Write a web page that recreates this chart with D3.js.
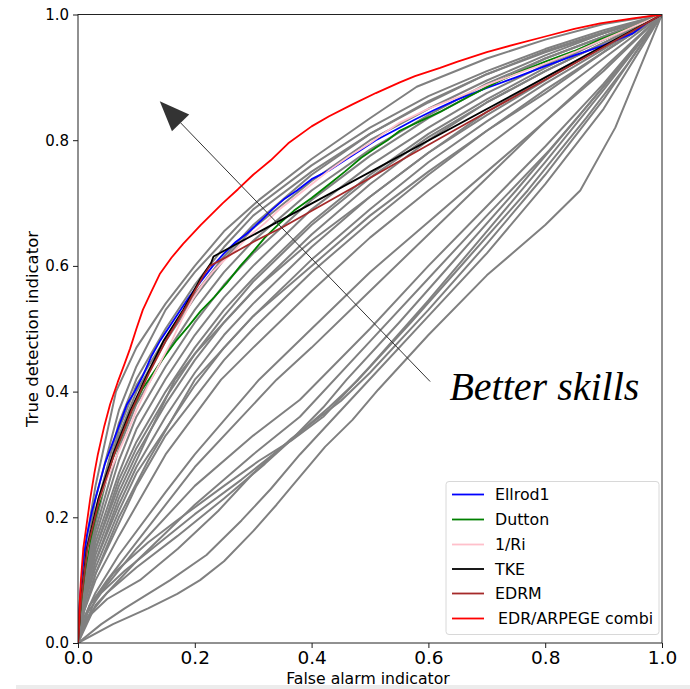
<!DOCTYPE html>
<html>
<head>
<meta charset="utf-8">
<script src="https://cdn.jsdelivr.net/npm/d3@7"></script>
<style>
  html, body { margin: 0; padding: 0; background: #fff; }
  svg { display: block; }
</style>
</head>
<body>
<svg id="chart" width="690" height="689"></svg>
<script>
// ---------------- data ----------------
const xTicks = [0.0, 0.2, 0.4, 0.6, 0.8, 1.0];
const yTicks = [0.0, 0.2, 0.4, 0.6, 0.8, 1.0];
const xLabel = "False alarm indicator";
const yLabel = "True detection indicator";
const annotation = "Better skills";

const seriesNames = ["Ellrod1", "Dutton", "1/Ri", "TKE", "EDRM", "EDR/ARPEGE combi"];
const seriesColors = ["#0000ff", "#008000", "#ffc0cb", "#000000", "#a52a2a", "#ff0000"];

const ellrod1 = [[0,0],[0.002,0.05],[0.004,0.08],[0.009,0.13],[0.015,0.17],[0.024,0.21],[0.034,0.244],[0.046,0.285],[0.06,0.32],[0.072,0.35],[0.084,0.38],[0.097,0.40],[0.111,0.425],[0.125,0.455],[0.14,0.48],[0.165,0.515],[0.19,0.55],[0.21,0.575],[0.231,0.60],[0.25,0.62],[0.27,0.638],[0.29,0.652],[0.312,0.671],[0.333,0.69],[0.354,0.707],[0.375,0.72],[0.40,0.738],[0.43,0.752],[0.457,0.768],[0.485,0.785],[0.51,0.80],[0.545,0.817],[0.577,0.833],[0.61,0.848],[0.65,0.865],[0.7,0.883],[0.75,0.90],[0.8,0.918],[0.85,0.935],[0.894,0.949],[0.95,0.97],[0.979,0.99],[1,1]];
const dutton = [[0,0],[0.003,0.04],[0.006,0.07],[0.012,0.115],[0.02,0.16],[0.03,0.2],[0.043,0.244],[0.058,0.29],[0.075,0.33],[0.092,0.37],[0.111,0.405],[0.14,0.445],[0.169,0.482],[0.19,0.505],[0.21,0.528],[0.233,0.55],[0.255,0.573],[0.278,0.6],[0.3,0.623],[0.32,0.645],[0.342,0.665],[0.37,0.688],[0.4,0.708],[0.43,0.73],[0.457,0.75],[0.485,0.772],[0.51,0.788],[0.53,0.8],[0.551,0.815],[0.585,0.83],[0.62,0.845],[0.67,0.87],[0.723,0.895],[0.76,0.91],[0.8,0.925],[0.85,0.942],[0.894,0.96],[0.95,0.98],[1,1]];
const invRi = [[0,0],[0.002,0.035],[0.005,0.07],[0.012,0.125],[0.02,0.17],[0.032,0.215],[0.045,0.25],[0.065,0.295],[0.084,0.334],[0.1,0.37],[0.12,0.41],[0.14,0.445],[0.16,0.48],[0.178,0.515],[0.197,0.548],[0.213,0.57],[0.23,0.59],[0.248,0.607],[0.265,0.621],[0.29,0.645],[0.32,0.668],[0.345,0.69],[0.37,0.708],[0.4,0.73],[0.43,0.752],[0.465,0.775],[0.5,0.795],[0.525,0.812],[0.551,0.828],[0.6,0.85],[0.65,0.868],[0.7,0.888],[0.75,0.905],[0.8,0.922],[0.85,0.94],[0.9,0.96],[0.93,0.972],[1,1]];
const tke = [[0,0],[0.005,0.07],[0.015,0.15],[0.035,0.23],[0.06,0.3],[0.09,0.37],[0.12,0.43],[0.146,0.48],[0.18,0.53],[0.21,0.58],[0.228,0.605],[0.232,0.615],[1,1]];
const edrm = [[0,0],[0.005,0.065],[0.016,0.15],[0.037,0.23],[0.062,0.3],[0.092,0.37],[0.122,0.43],[0.15,0.48],[0.185,0.535],[0.215,0.585],[0.226,0.6],[0.25,0.612],[0.3,0.638],[0.351,0.662],[0.5,0.74],[0.551,0.767],[0.7,0.845],[0.85,0.922],[1,1]];
const edrCombi = [[0,0],[0.002,0.05],[0.005,0.1],[0.009,0.15],[0.015,0.19],[0.021,0.23],[0.028,0.27],[0.034,0.30],[0.045,0.345],[0.055,0.38],[0.068,0.415],[0.08,0.445],[0.089,0.468],[0.1,0.5],[0.111,0.53],[0.125,0.558],[0.14,0.587],[0.16,0.613],[0.18,0.635],[0.21,0.665],[0.248,0.70],[0.274,0.722],[0.30,0.745],[0.33,0.768],[0.36,0.795],[0.40,0.822],[0.43,0.838],[0.47,0.857],[0.51,0.875],[0.551,0.892],[0.577,0.902],[0.62,0.915],[0.65,0.925],[0.7,0.94],[0.75,0.953],[0.8,0.965],[0.85,0.977],[0.894,0.986],[0.95,0.994],[1,1]];

// other indices (grey)
const grey01 = [[0,0],[0.01,0.14],[0.03,0.25],[0.065,0.4],[0.1,0.47],[0.15,0.54],[0.2,0.6],[0.25,0.655],[0.31,0.705],[0.4,0.77],[0.5,0.835],[0.58,0.885],[0.7,0.93],[0.8,0.96],[0.9,0.985],[1,1]];
const grey02 = [[0,0],[0.01,0.12],[0.03,0.23],[0.07,0.37],[0.1,0.44],[0.15,0.53],[0.2,0.59],[0.25,0.64],[0.3,0.69],[0.4,0.76],[0.5,0.82],[0.6,0.87],[0.7,0.91],[0.8,0.945],[0.9,0.975],[1,1]];
const grey03 = [[0,0],[0.01,0.11],[0.03,0.21],[0.07,0.35],[0.1,0.42],[0.15,0.5],[0.2,0.57],[0.25,0.63],[0.3,0.68],[0.4,0.75],[0.5,0.81],[0.6,0.86],[0.7,0.905],[0.8,0.94],[0.9,0.97],[1,1]];
const grey04 = [[0,0],[0.01,0.1],[0.03,0.2],[0.07,0.33],[0.1,0.4],[0.15,0.48],[0.2,0.55],[0.25,0.61],[0.3,0.66],[0.4,0.735],[0.5,0.8],[0.6,0.85],[0.7,0.895],[0.8,0.935],[0.9,0.97],[1,1]];
const grey05 = [[0,0],[0.01,0.09],[0.03,0.18],[0.07,0.31],[0.1,0.38],[0.15,0.46],[0.2,0.53],[0.25,0.59],[0.3,0.64],[0.4,0.72],[0.5,0.785],[0.6,0.84],[0.7,0.89],[0.8,0.93],[0.9,0.965],[1,1]];
const grey06 = [[0,0],[0.01,0.08],[0.03,0.17],[0.07,0.29],[0.1,0.36],[0.15,0.44],[0.2,0.51],[0.25,0.57],[0.3,0.62],[0.4,0.705],[0.5,0.775],[0.6,0.835],[0.7,0.885],[0.8,0.93],[0.9,0.965],[1,1]];
const grey07 = [[0,0],[0.01,0.08],[0.03,0.16],[0.07,0.27],[0.1,0.34],[0.15,0.42],[0.2,0.49],[0.25,0.55],[0.3,0.6],[0.4,0.69],[0.5,0.76],[0.6,0.82],[0.7,0.875],[0.8,0.92],[0.9,0.96],[1,1]];
const grey08 = [[0,0],[0.01,0.07],[0.03,0.15],[0.07,0.26],[0.1,0.32],[0.15,0.4],[0.2,0.47],[0.25,0.53],[0.3,0.58],[0.4,0.67],[0.5,0.745],[0.6,0.81],[0.7,0.865],[0.8,0.915],[0.9,0.96],[1,1]];
const grey09 = [[0,0],[0.01,0.07],[0.03,0.14],[0.07,0.24],[0.1,0.3],[0.15,0.38],[0.2,0.45],[0.25,0.51],[0.3,0.56],[0.4,0.65],[0.5,0.73],[0.6,0.8],[0.7,0.86],[0.8,0.91],[0.9,0.955],[1,1]];
const grey10 = [[0,0],[0.01,0.06],[0.03,0.13],[0.07,0.22],[0.1,0.28],[0.15,0.36],[0.2,0.43],[0.25,0.49],[0.3,0.54],[0.4,0.63],[0.5,0.71],[0.6,0.78],[0.7,0.845],[0.8,0.9],[0.9,0.95],[1,1]];
const grey11 = [[0,0],[0.01,0.06],[0.03,0.12],[0.07,0.21],[0.1,0.27],[0.15,0.34],[0.2,0.41],[0.25,0.47],[0.3,0.52],[0.4,0.61],[0.5,0.69],[0.6,0.765],[0.7,0.83],[0.8,0.89],[0.9,0.945],[1,1]];
const grey12 = [[0,0],[0.01,0.06],[0.03,0.13],[0.07,0.23],[0.12,0.33],[0.166,0.419],[0.2,0.46],[0.3,0.56],[0.4,0.64],[0.5,0.71],[0.6,0.78],[0.7,0.84],[0.8,0.895],[0.9,0.95],[1,1]];
const grey13 = [[0,0],[0.01,0.05],[0.03,0.11],[0.07,0.2],[0.12,0.29],[0.2,0.419],[0.3,0.52],[0.4,0.6],[0.5,0.68],[0.6,0.75],[0.7,0.815],[0.8,0.875],[0.9,0.94],[1,1]];
const grey14 = [[0,0],[0.01,0.05],[0.03,0.1],[0.07,0.17],[0.15,0.3],[0.245,0.419],[0.3,0.47],[0.4,0.56],[0.5,0.645],[0.6,0.72],[0.7,0.79],[0.8,0.86],[0.9,0.93],[1,1]];
const grey15 = [[0,0],[0.01,0.04],[0.03,0.08],[0.07,0.14],[0.15,0.24],[0.2,0.3],[0.31,0.419],[0.4,0.5],[0.5,0.59],[0.6,0.67],[0.7,0.75],[0.8,0.83],[0.9,0.91],[1,1]];
const grey16 = [[0,0],[0.02,0.06],[0.05,0.1],[0.1,0.16],[0.2,0.28],[0.34,0.419],[0.4,0.47],[0.5,0.56],[0.6,0.65],[0.7,0.74],[0.8,0.83],[0.9,0.915],[1,1]];
const grey17 = [[0,0],[0.03,0.06],[0.1,0.13],[0.2,0.22],[0.3,0.3],[0.38,0.36],[0.5,0.48],[0.6,0.58],[0.7,0.68],[0.808,0.785],[0.9,0.885],[1,1]];
const grey18 = [[0,0],[0.01,0.04],[0.04,0.08],[0.08,0.115],[0.14,0.16],[0.2,0.205],[0.28,0.26],[0.365,0.323],[0.42,0.375],[0.46,0.419],[0.55,0.51],[0.65,0.615],[0.75,0.72],[0.85,0.83],[0.93,0.92],[1,1]];
const grey19 = [[0,0],[0.015,0.04],[0.05,0.08],[0.1,0.12],[0.17,0.17],[0.25,0.23],[0.32,0.285],[0.365,0.323],[0.43,0.375],[0.48,0.419],[0.57,0.51],[0.67,0.615],[0.77,0.72],[0.87,0.835],[0.94,0.92],[1,1]];
const grey20 = [[0,0],[0.01,0.035],[0.05,0.07],[0.106,0.1],[0.171,0.15],[0.24,0.21],[0.3,0.27],[0.365,0.325],[0.45,0.385],[0.5,0.43],[0.6,0.53],[0.7,0.635],[0.8,0.745],[0.9,0.865],[1,1]];
const grey21 = [[0,0],[0.02,0.06],[0.06,0.11],[0.12,0.16],[0.171,0.196],[0.25,0.25],[0.31,0.29],[0.365,0.322],[0.42,0.36],[0.5,0.44],[0.6,0.545],[0.7,0.655],[0.8,0.765],[0.9,0.88],[1,1]];
const grey22 = [[0,0],[0.06,0.03],[0.12,0.055],[0.17,0.078],[0.209,0.1],[0.25,0.13],[0.3,0.178],[0.34,0.22],[0.365,0.248],[0.423,0.312],[0.47,0.355],[0.514,0.403],[0.6,0.49],[0.7,0.585],[0.8,0.665],[0.86,0.72],[0.92,0.82],[1,1]];
const grey23 = [[0,0],[0.04,0.03],[0.08,0.055],[0.158,0.1],[0.22,0.14],[0.28,0.195],[0.33,0.245],[0.38,0.3],[0.43,0.35],[0.5,0.42],[0.6,0.52],[0.7,0.62],[0.8,0.73],[0.9,0.85],[1,1]];
const grey24 = [[0,0],[0.01,0.09],[0.03,0.19],[0.07,0.34],[0.1,0.41],[0.15,0.485],[0.2,0.555],[0.25,0.615],[0.3,0.665],[0.4,0.745],[0.5,0.81],[0.6,0.862],[0.7,0.905],[0.8,0.942],[0.9,0.972],[1,1]];
const grey25 = [[0,0],[0.01,0.07],[0.03,0.15],[0.07,0.25],[0.1,0.31],[0.15,0.39],[0.2,0.46],[0.25,0.52],[0.3,0.575],[0.4,0.665],[0.5,0.74],[0.6,0.805],[0.7,0.86],[0.8,0.91],[0.9,0.955],[1,1]];
const grey26 = [[0,0],[0.01,0.05],[0.03,0.11],[0.07,0.19],[0.1,0.25],[0.15,0.33],[0.2,0.39],[0.25,0.45],[0.3,0.5],[0.4,0.59],[0.5,0.67],[0.6,0.745],[0.7,0.815],[0.8,0.88],[0.9,0.94],[1,1]];
const grey27 = [[0,0],[0.03,0.07],[0.1,0.15],[0.2,0.25],[0.3,0.33],[0.38,0.387],[0.5,0.5],[0.6,0.6],[0.7,0.695],[0.8,0.79],[0.9,0.89],[1,1]];

const greyCurves = [grey01,grey02,grey03,grey04,grey05,grey06,grey07,grey08,grey09,grey10,grey11,
                    grey12,grey13,grey14,grey15,grey16,grey17,grey18,grey19,grey20,grey21,grey22,
                    grey23,grey24,grey25,grey26,grey27];
const namedCurves = [ellrod1, dutton, invRi, tke, edrm, edrCombi];

// arrow annotation (data coordinates): tail near text, head at upper-left
const arrowTail = [0.603, 0.416];
const arrowHead = [0.140, 0.862];
const textAnchor = [0.636, 0.387];

// ---------------- drawing ----------------
const svg = d3.select("#chart");
const W = 690, H = 689;
const mLeft = 78, mRight = 662, mTop = 14.5, mBottom = 643;

const x = d3.scaleLinear().domain([0, 1]).range([mLeft, mRight]);
const y = d3.scaleLinear().domain([0, 1]).range([mBottom, mTop]);

svg.append("rect").attr("x", 0).attr("y", 0).attr("width", W).attr("height", H).attr("fill", "#fff");
svg.append("rect").attr("x", 16).attr("y", 685).attr("width", W - 16).attr("height", 4).attr("fill", "#ececec");

svg.append("defs").append("clipPath").attr("id", "plotclip")
  .append("rect").attr("x", mLeft).attr("y", mTop).attr("width", mRight - mLeft).attr("height", mBottom - mTop);

const line = d3.line().x(d => x(d[0])).y(d => y(d[1]));

const plot = svg.append("g").attr("clip-path", "url(#plotclip)");

plot.selectAll("path.grey").data(greyCurves).join("path")
  .attr("class", "grey")
  .attr("d", line)
  .attr("fill", "none")
  .attr("stroke", "#808080")
  .attr("stroke-width", 2)
  .attr("stroke-linejoin", "round");

plot.selectAll("path.named").data(namedCurves).join("path")
  .attr("class", "named")
  .attr("d", line)
  .attr("fill", "none")
  .attr("stroke", (d, i) => seriesColors[i])
  .attr("stroke-width", 1.8)
  .attr("stroke-linejoin", "round");

// axes
const fontFam = "'DejaVu Sans', sans-serif";
const xAxis = svg.append("g").attr("transform", `translate(0,${mBottom})`)
  .call(d3.axisBottom(x).tickValues(xTicks).tickFormat(d3.format(".1f")).tickSize(5).tickPadding(3));
xAxis.selectAll("text").attr("font-family", fontFam).attr("font-size", 18.5).attr("fill", "#000");

const yAxis = svg.append("g").attr("transform", `translate(${mLeft},0)`)
  .call(d3.axisLeft(y).tickValues(yTicks).tickFormat(d3.format(".1f")).tickSize(5).tickPadding(4));
yAxis.selectAll("text").attr("font-family", fontFam).attr("font-size", 15).attr("fill", "#000");

[xAxis, yAxis].forEach(a => {
  a.select(".domain").remove();
  a.selectAll("line").attr("stroke", "#000").attr("stroke-width", 0.9);
});

// frame
svg.append("rect").attr("x", mLeft).attr("y", mTop).attr("width", mRight - mLeft).attr("height", mBottom - mTop)
  .attr("fill", "none").attr("stroke", "#222").attr("stroke-width", 1);

// axis labels
svg.append("text").attr("x", (mLeft + mRight) / 2 - 2).attr("y", 684)
  .attr("text-anchor", "middle").attr("font-family", fontFam).attr("font-size", 15.7).text(xLabel);
svg.append("text").attr("transform", `translate(38,329) rotate(-90)`)
  .attr("text-anchor", "middle").attr("font-family", fontFam).attr("font-size", 16.5).text(yLabel);

// arrow
const hx = x(arrowHead[0]), hy = y(arrowHead[1]);
const tx = x(arrowTail[0]), ty = y(arrowTail[1]);
const ang = Math.atan2(hy - ty, hx - tx);
const headLen = 30, headHalf = 12;
const bx = hx - headLen * Math.cos(ang), by = hy - headLen * Math.sin(ang);
svg.append("line").attr("x1", tx).attr("y1", ty).attr("x2", bx).attr("y2", by)
  .attr("stroke", "#333").attr("stroke-width", 1);
svg.append("polygon")
  .attr("points", [
    [hx, hy],
    [bx + headHalf * Math.sin(ang), by - headHalf * Math.cos(ang)],
    [bx - headHalf * Math.sin(ang), by + headHalf * Math.cos(ang)]
  ].map(p => p.join(",")).join(" "))
  .attr("fill", "#333");

svg.append("text").attr("x", x(textAnchor[0])).attr("y", y(textAnchor[1]))
  .attr("font-family", "'Liberation Serif', serif").attr("font-style", "italic")
  .attr("font-size", 40).attr("fill", "#000").text(annotation);

// legend
const lg = svg.append("g");
lg.append("rect").attr("x", 446).attr("y", 481.5).attr("width", 213).attr("height", 153).attr("rx", 3)
  .attr("fill", "#fff").attr("fill-opacity", 0.85).attr("stroke", "#d8d8d8").attr("stroke-width", 1);
const rowY = [494.5, 519.5, 544.5, 569, 593.5, 618.5];
seriesNames.forEach((n, i) => {
  lg.append("line").attr("x1", 452).attr("x2", 484).attr("y1", rowY[i]).attr("y2", rowY[i])
    .attr("stroke", seriesColors[i]).attr("stroke-width", 1.8);
  lg.append("text").attr("x", i === 5 ? 498 : 495).attr("y", rowY[i] + 5.5)
    .attr("font-family", fontFam).attr("font-size", 15.8).attr("fill", "#000").text(n);
});
</script>
</body>
</html>
